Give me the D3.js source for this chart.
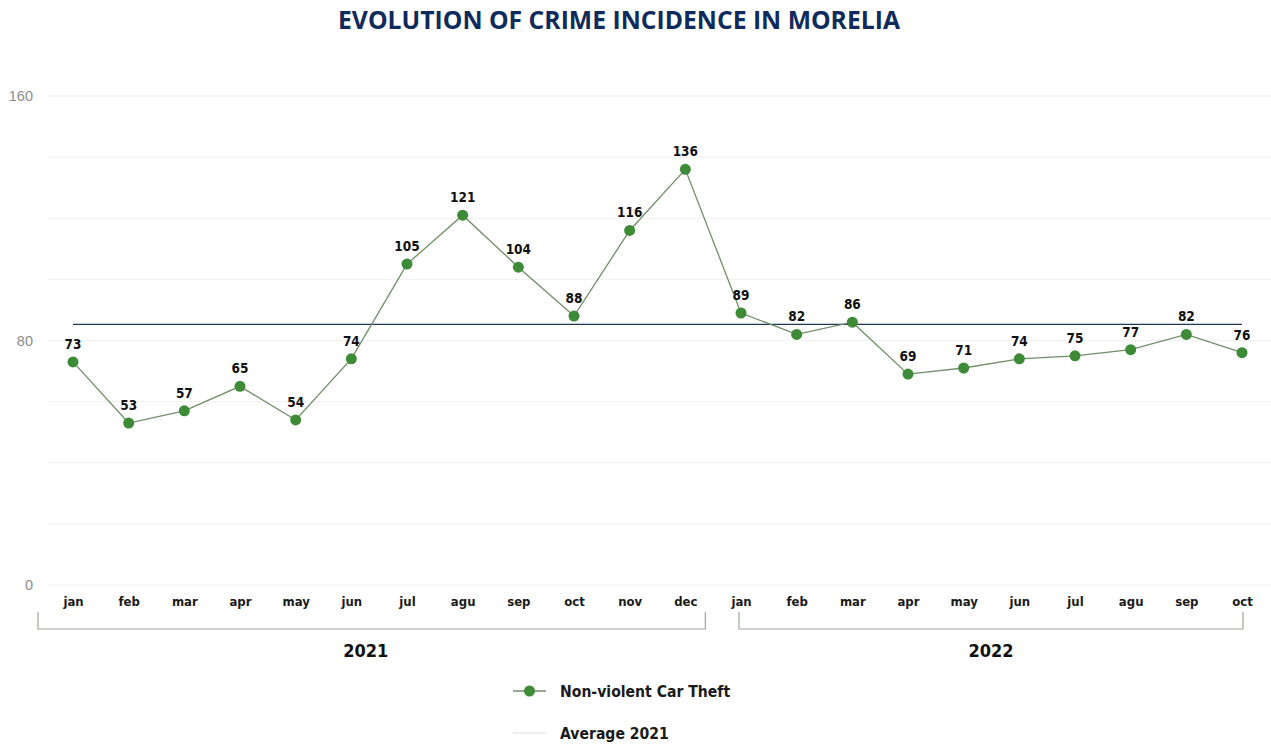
<!DOCTYPE html>
<html>
<head>
<meta charset="utf-8">
<script src="https://cdn.jsdelivr.net/npm/d3@7/dist/d3.min.js"></script>
<style>
  html, body { margin: 0; padding: 0; background: #ffffff; }
  svg { display: block; }
</style>
</head>
<body>
<svg id="chart" width="1271" height="745"></svg>
<script>
// Monthly counts of non-violent car theft, Morelia
const months = ["jan","feb","mar","apr","may","jun","jul","agu","sep","oct","nov","dec",
                "jan","feb","mar","apr","may","jun","jul","agu","sep","oct"];
const carTheft = [73, 53, 57, 65, 54, 74, 105, 121, 104, 88, 116, 136,
                  89, 82, 86, 69, 71, 74, 75, 77, 82, 76];
const average2021 = 85.3;
const yTicks = [0, 80, 160];
const gridValues = [0, 20, 40, 60, 80, 100, 120, 140, 160];
const years = [
  { label: "2021", from: 0, to: 11 },
  { label: "2022", from: 12, to: 21 }
];
const legendItems = ["Non-violent Car Theft", "Average 2021"];

const svg = d3.select("#chart");
const condensed = "'DejaVu Sans Condensed', 'DejaVu Sans', sans-serif";

const x = d3.scalePoint().domain(d3.range(months.length)).range([73, 1242]);
const y = d3.scaleLinear().domain([0, 160]).range([585, 96]);

// Title
svg.append("text")
  .attr("x", 619).attr("y", 29)
  .attr("text-anchor", "middle")
  .attr("font-family", "'Open Sans', sans-serif")
  .attr("font-weight", 700)
  .attr("font-size", 24.5)
  .attr("textLength", 562)
  .attr("lengthAdjust", "spacingAndGlyphs")
  .attr("fill", "#0f2b5b")
  .text("EVOLUTION OF CRIME INCIDENCE IN MORELIA");

// Faint horizontal gridlines
svg.append("g").selectAll("line")
  .data(gridValues).join("line")
  .attr("x1", 48).attr("x2", 1271)
  .attr("y1", d => y(d)).attr("y2", d => y(d))
  .attr("stroke", "#f0f0f0").attr("stroke-width", 1);

// Y axis labels
const yAxis = d3.axisLeft(y).tickValues(yTicks).tickSize(0).tickPadding(0);
const yg = svg.append("g").attr("transform", "translate(33,0)").call(yAxis);
yg.select(".domain").remove();
yg.selectAll("text")
  .attr("font-family", "'Liberation Sans', Arial, sans-serif")
  .attr("font-size", 14.5)
  .attr("fill", "#8c8c8c");

// X axis month labels
const xAxis = d3.axisBottom(x).tickFormat(i => months[i]).tickSize(0).tickPadding(0);
const xg = svg.append("g").attr("transform", "translate(0,597)").call(xAxis);
xg.select(".domain").remove();
xg.selectAll("text")
  .attr("font-family", condensed)
  .attr("font-weight", 700)
  .attr("font-size", 13)
  .attr("fill", "#1a1a1a");

// Year brackets
const bracketTop = 612, bracketBottom = 629;
const bracketLeftPad = [35, 2];
const bracketRightPad = [20, 1];
years.forEach((yr, k) => {
  const x0 = x(yr.from) - bracketLeftPad[k];
  const x1 = x(yr.to) + bracketRightPad[k];
  svg.append("path")
    .attr("d", `M${x0},${bracketTop}V${bracketBottom}H${x1}V${bracketTop}`)
    .attr("fill", "none")
    .attr("stroke", "#9aa99a")
    .attr("stroke-width", 1.2);
  svg.append("text")
    .attr("x", (x0 + x1) / 2 + (k === 0 ? -6 : 0)).attr("y", 657)
    .attr("text-anchor", "middle")
    .attr("font-family", condensed)
    .attr("font-weight", 700)
    .attr("font-size", 18)
    .attr("fill", "#111")
    .text(yr.label);
});

// Average 2021 reference line
svg.append("line")
  .attr("x1", x(0)).attr("x2", x(months.length - 1))
  .attr("y1", y(average2021)).attr("y2", y(average2021))
  .attr("stroke", "#1e3a56").attr("stroke-width", 1.2);

// Series line
const line = d3.line().x((d, i) => x(i)).y(d => y(d));
svg.append("path")
  .datum(carTheft)
  .attr("d", line)
  .attr("fill", "none")
  .attr("stroke", "#6f8f66")
  .attr("stroke-width", 1.3);

// Points
svg.append("g").selectAll("circle")
  .data(carTheft).join("circle")
  .attr("cx", (d, i) => x(i)).attr("cy", d => y(d))
  .attr("r", 5.5)
  .attr("fill", "#3d8b37");

// Value labels
svg.append("g").selectAll("text")
  .data(carTheft).join("text")
  .attr("x", (d, i) => x(i)).attr("y", d => y(d) - 13)
  .attr("text-anchor", "middle")
  .attr("font-family", condensed)
  .attr("font-weight", 700)
  .attr("font-size", 13.5)
  .attr("fill", "#111")
  .text(d => d);

// Legend
const legend = svg.append("g");
legend.append("line")
  .attr("x1", 513).attr("x2", 546).attr("y1", 691).attr("y2", 691)
  .attr("stroke", "#6f8f66").attr("stroke-width", 1.3);
legend.append("circle")
  .attr("cx", 529.5).attr("cy", 691).attr("r", 5.5).attr("fill", "#3d8b37");
legend.append("line")
  .attr("x1", 513).attr("x2", 546).attr("y1", 733).attr("y2", 733)
  .attr("stroke", "#dcdfdc").attr("stroke-width", 1.2);
legend.selectAll("text")
  .data(legendItems).join("text")
  .attr("x", 560).attr("y", (d, i) => 697 + i * 42)
  .attr("font-family", condensed)
  .attr("font-weight", 700)
  .attr("font-size", 15.6)
  .attr("fill", "#1a1a1a")
  .text(d => d);
</script>
</body>
</html>
